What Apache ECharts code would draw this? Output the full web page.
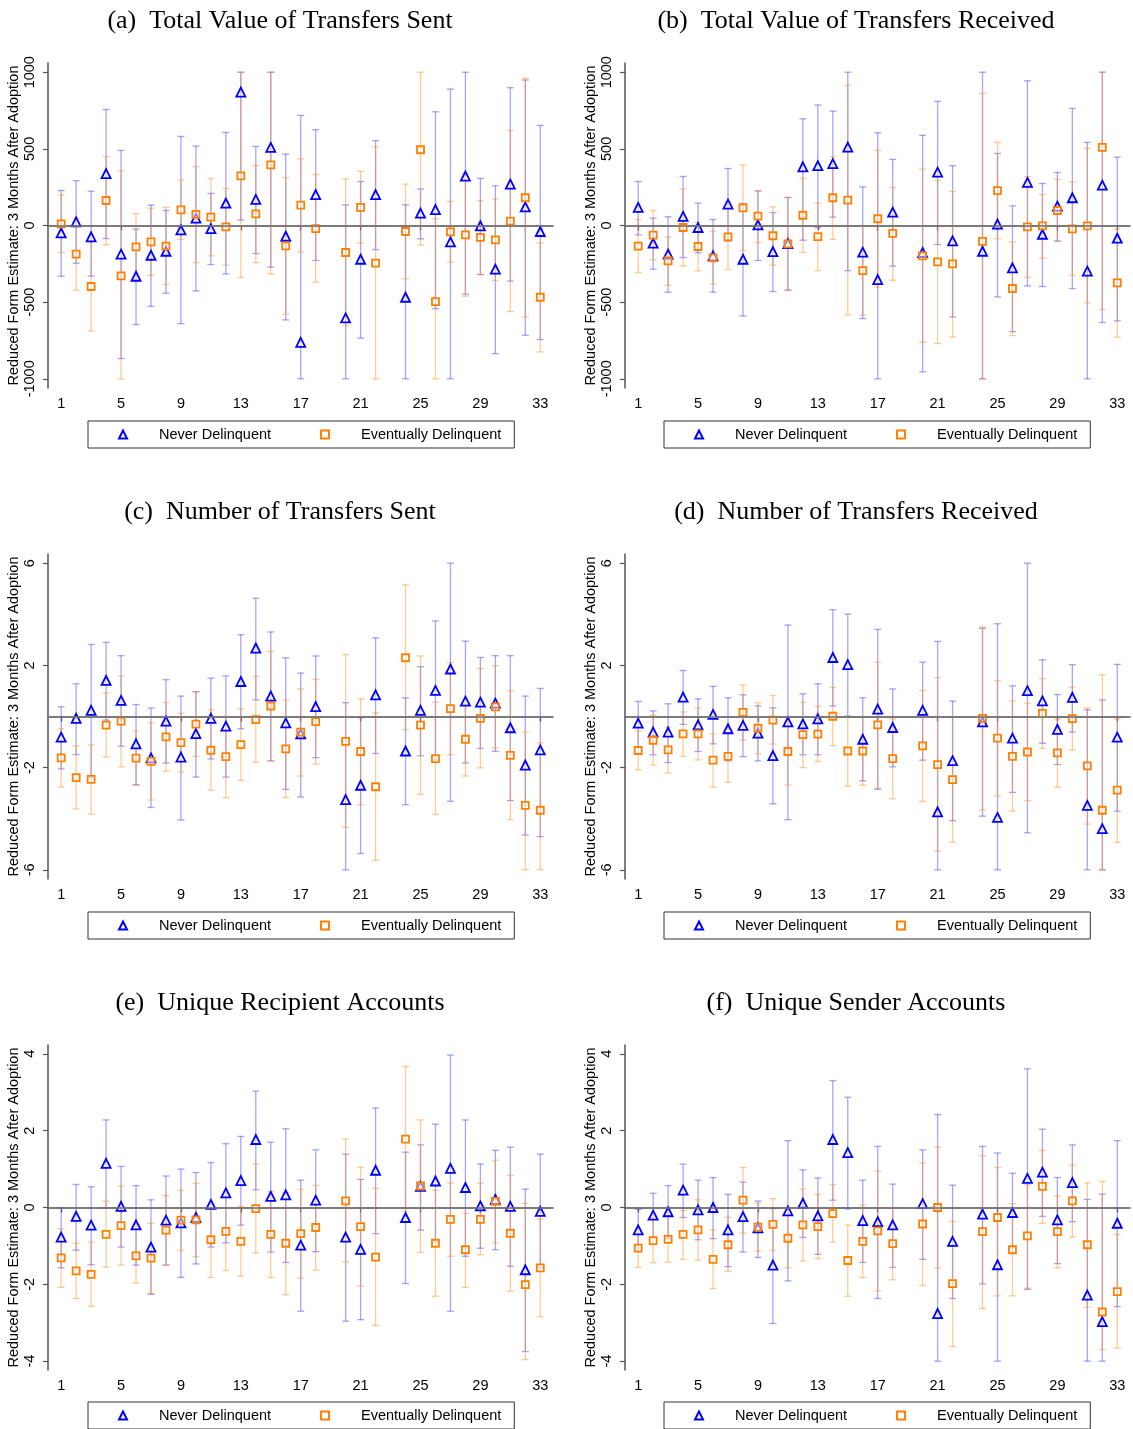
<!DOCTYPE html>
<html>
<head>
<meta charset="utf-8">
<script src="https://cdn.jsdelivr.net/npm/echarts@6/dist/echarts.min.js"></script>
<style>
  html, body { margin: 0; padding: 0; background: #fff; }
  #app { width: 1133px; height: 1429px; }
</style>
</head>
<body>
<div id="app"></div>
<script>
// months after adoption (19 and 23 are not estimated)
var periods = [1,2,3,4,5,6,7,8,9,10,11,12,13,14,15,16,17,18,20,21,22,24,25,26,27,28,29,30,31,32,33];

// each row: [estimate, lower CI, upper CI]  (CIs cut at the plotted range)
var aNever = [[-48,-331,228],[24,-246,292],[-74,-330,224],[339,-85,757],[-187,-868,490],[-331,-646,-24],[-194,-527,133],[-168,-442,98],[-28,-640,581],[48,-427,518],[-20,-255,209],[146,-316,607],[870,35,1000],[170,-183,516],[509,-272,1000],[-70,-616,466],[-762,-1000,718],[202,-228,625],[-603,-1000,135],[-220,-735,287],[202,-157,553],[-468,-1000,135],[81,-87,239],[104,-542,742],[-107,-1000,890],[322,-448,1000],[-2,-320,307],[-285,-836,259],[270,-363,899],[122,-716,949],[-39,-744,653]];
var aEvent = [[11,-176,200],[-187,-422,46],[-398,-688,-107],[163,-126,450],[-329,-1000,357],[-139,-357,78],[-107,-326,113],[-135,-385,118],[102,-91,296],[72,-242,385],[54,-198,307],[-9,-259,242],[324,-339,1000],[76,-242,392],[396,-316,1000],[-133,-579,313],[133,-172,435],[-20,-370,333],[-176,-653,305],[118,-115,353],[-246,-1000,514],[-39,-348,270],[494,-128,1000],[-496,-1000,44],[-41,-239,157],[-61,-461,339],[-78,-320,163],[-94,-359,174],[28,-561,620],[181,-596,960],[-468,-825,-113]];

var bNever = [[118,-61,287],[-115,-285,48],[-187,-435,57],[59,-209,320],[-13,-178,146],[-198,-435,39],[139,-102,372],[-220,-590,144],[4,-228,226],[-170,-431,85],[-118,-422,183],[383,-96,696],[390,-15,786],[403,54,746],[511,-294,1000],[-174,-607,252],[-353,-1000,605],[87,-265,431],[-176,-955,588],[348,-124,810],[-100,-596,390],[-168,-1000,1000],[9,-466,470],[-276,-692,128],[281,-394,944],[-57,-398,274],[126,-102,346],[181,-411,764],[-298,-1000,542],[263,-633,1000],[-83,-622,446]];
var bEvent = [[-135,-307,39],[-63,-224,98],[-231,-390,-76],[-13,-265,239],[-137,-296,20],[-211,-381,-37],[-74,-287,155],[115,-165,394],[61,-111,226],[-67,-259,122],[-120,-422,183],[67,-176,309],[-72,-294,146],[181,-91,448],[165,-583,914],[-294,-585,0],[44,-403,490],[-52,-357,248],[-198,-762,368],[-237,-770,294],[-250,-727,222],[-104,-1000,862],[228,-87,542],[-411,-718,-107],[-9,-339,318],[-2,-213,202],[98,-102,300],[-22,-326,283],[-2,-505,503],[509,-548,1000],[-374,-729,-22]];

var cNever = [[-0.81,-2.05,0.38],[-0.07,-1.49,1.28],[0.24,-2.4,2.82],[1.41,-0.14,2.9],[0.63,-1.16,2.38],[-1.07,-2.67,0.47],[-1.62,-3.56,0.33],[-0.18,-1.82,1.44],[-1.59,-4.05,0.8],[-0.67,-2.37,0.97],[-0.07,-1.66,1.5],[-0.38,-2.37,1.59],[1.37,-0.48,3.2],[2.68,0.65,4.63],[0.8,-1.74,3.31],[-0.25,-2.85,2.3],[-0.68,-3.15,1.7],[0.39,-1.61,2.37],[-3.25,-6,0.54],[-2.69,-5.36,-0.05],[0.85,-1.45,3.08],[-1.35,-3.45,0.73],[0.24,-1.54,1.95],[1.02,-1.7,3.74],[1.86,-3.32,6],[0.6,-1.82,2.95],[0.56,-1.25,2.31],[0.52,-1.36,2.38],[-0.44,-3.29,2.38],[-1.9,-4.64,0.8],[-1.31,-4.7,1.1]];
var cEvent = [[-1.62,-2.76,-0.48],[-2.39,-3.62,-1.15],[-2.46,-3.82,-1.11],[-0.34,-1.58,0.92],[-0.18,-1.97,1.59],[-1.63,-2.69,-0.56],[-1.76,-3.27,-0.25],[-0.8,-2.14,0.55],[-1.02,-2.17,0.13],[-0.3,-1.56,0.97],[-1.32,-2.88,0.26],[-1.57,-3.18,0.01],[-1.1,-2.5,0.3],[-0.12,-1.79,1.57],[0.41,-1.74,2.55],[-1.27,-3.18,0.64],[-0.61,-2.33,1.08],[-0.2,-1.86,1.46],[-0.97,-4.34,2.42],[-1.37,-3.45,0.69],[-2.75,-5.63,0.14],[2.3,-0.52,5.15],[-0.34,-3.05,2.37],[-1.65,-3.83,0.56],[0.31,-1.5,2.12],[-0.89,-2.33,0.46],[-0.07,-2.01,1.88],[0.38,-1.23,1.99],[-1.52,-4.04,1.01],[-3.48,-6,-0.61],[-3.67,-6,-1.03]];

var dNever = [[-0.26,-1.2,0.59],[-0.61,-1.5,0.22],[-0.61,-1.8,0.5],[0.76,-0.31,1.8],[-0.33,-1.37,0.69],[0.08,-1.07,1.18],[-0.48,-1.74,0.73],[-0.35,-1.57,0.85],[-0.65,-1.74,0.42],[-1.53,-3.42,0.34],[-0.21,-4.04,3.58],[-0.29,-1.5,0.89],[-0.09,-1.5,1.28],[2.31,0.41,4.18],[2.03,0.01,4.01],[-0.89,-2.52,0.73],[0.29,-2.85,3.41],[-0.43,-1.97,1.08],[0.24,-1.71,2.13],[-3.73,-6,2.94],[-1.73,-4.08,0.6],[-0.21,-3.9,3.45],[-3.95,-6,3.63],[-0.85,-2.97,1.2],[1.01,-4.55,6],[0.61,-1.05,2.22],[-0.5,-1.88,0.86],[0.75,-0.61,2.03],[-3.48,-6,0.26],[-4.39,-6,0.65],[-0.81,-3.71,2.04]];
var dEvent = [[-1.33,-2.09,-0.56],[-0.93,-1.9,0.05],[-1.31,-2.21,-0.41],[-0.68,-1.56,0.18],[-0.68,-1.7,0.34],[-1.71,-2.77,-0.68],[-1.56,-2.58,-0.46],[0.16,-0.93,1.24],[-0.46,-1.46,0.54],[-0.14,-1.08,0.82],[-1.37,-2.68,-0.03],[-0.71,-2,0.56],[-0.69,-1.76,0.41],[0.01,-1.14,1.14],[-1.35,-2.72,0.01],[-1.35,-2.69,0],[-0.33,-2.81,2.13],[-1.65,-3.22,-0.09],[-1.15,-3.32,1.02],[-1.88,-5.27,1.52],[-2.47,-4.92,0],[-0.07,-3.66,3.5],[-0.85,-3.11,1.4],[-1.56,-3.7,0.61],[-1.39,-3.29,0.52],[0.12,-1.25,1.48],[-1.42,-2.77,-0.1],[-0.08,-1.31,1.15],[-1.93,-4.21,0.34],[-3.67,-6,1.63],[-2.88,-4.92,-0.1]];

var eNever = [[-0.77,-1.57,0],[-0.23,-1.11,0.6],[-0.46,-1.49,0.54],[1.15,-0.01,2.28],[0.03,-1.03,1.07],[-0.45,-1.5,0.57],[-1.03,-2.26,0.2],[-0.33,-1.5,0.82],[-0.4,-1.82,1],[-0.26,-1.47,0.91],[0.08,-1.03,1.17],[0.38,-0.92,1.66],[0.7,-0.46,1.85],[1.77,0.46,3.03],[0.29,-1.16,1.7],[0.33,-1.43,2.05],[-0.98,-2.7,0.71],[0.19,-1.15,1.5],[-0.77,-2.96,1.39],[-1.09,-2.92,0.73],[0.97,-0.68,2.59],[-0.26,-1.98,1.44],[0.55,-0.59,1.63],[0.69,-0.9,2.17],[1.02,-2.7,3.97],[0.52,-1.27,2.28],[0.04,-1.06,1.13],[0.21,-1.1,1.49],[0.03,-1.53,1.57],[-1.62,-3.75,0.48],[-0.1,-1.57,1.39]];
var eEvent = [[-1.31,-2.08,-0.55],[-1.65,-2.37,-0.93],[-1.74,-2.57,-0.9],[-0.7,-1.55,0.16],[-0.47,-1.5,0.56],[-1.26,-1.97,-0.44],[-1.32,-2.23,-0.41],[-0.59,-1.5,0.31],[-0.33,-1.12,0.45],[-0.32,-1.28,0.63],[-0.84,-1.82,0.12],[-0.62,-1.64,0.37],[-0.88,-1.79,0.03],[-0.03,-1.18,1.13],[-0.7,-1.82,0.42],[-0.93,-2.27,0.39],[-0.68,-1.84,0.48],[-0.52,-1.63,0.58],[0.17,-1.42,1.78],[-0.5,-2.05,1.05],[-1.29,-3.07,0.5],[1.78,-0.1,3.67],[0.56,-1.17,2.28],[-0.93,-2.31,0.45],[-0.31,-1.27,0.64],[-1.1,-2.08,-0.15],[-0.31,-1.23,0.63],[0.16,-0.92,1.23],[-0.67,-2.18,0.84],[-2.01,-3.96,0.11],[-1.57,-2.84,-0.3]];

var fNever = [[-0.58,-1.14,-0.05],[-0.2,-0.78,0.37],[-0.11,-0.81,0.57],[0.45,-0.26,1.13],[-0.06,-0.84,0.71],[0,-0.81,0.78],[-0.58,-1.54,0.34],[-0.24,-1.16,0.66],[-0.53,-1.3,0.17],[-1.5,-3.02,-0.03],[-0.09,-1.91,1.74],[0.11,-0.78,0.98],[-0.22,-1.22,0.77],[1.77,0.19,3.3],[1.43,-0.04,2.87],[-0.34,-1.43,0.71],[-0.37,-2.37,1.59],[-0.45,-1.56,0.61],[0.1,-1.35,1.5],[-2.76,-4,2.42],[-0.88,-2.37,0.58],[-0.17,-1.99,1.59],[-1.49,-4,1.42],[-0.13,-1.19,0.89],[0.76,-2.13,3.61],[0.92,-0.23,2.04],[-0.32,-1.46,0.78],[0.65,-0.37,1.63],[-2.28,-4,0.21],[-2.97,-4,0.35],[-0.41,-2.58,1.74]];
var fEvent = [[-1.06,-1.56,-0.59],[-0.86,-1.44,-0.27],[-0.83,-1.42,-0.2],[-0.7,-1.35,-0.08],[-0.58,-1.37,0.2],[-1.35,-2.11,-0.58],[-0.97,-1.66,-0.26],[0.19,-0.67,1.04],[-0.51,-1.14,0.11],[-0.44,-1.12,0.23],[-0.8,-1.57,-0.01],[-0.45,-1.39,0.48],[-0.5,-1.33,0.34],[-0.16,-0.9,0.6],[-1.38,-2.31,-0.46],[-0.88,-1.82,0.06],[-0.61,-2.17,0.95],[-0.94,-1.88,0],[-0.43,-2.03,1.16],[0,-1.58,1.57],[-1.98,-3.62,-0.36],[-0.63,-2.63,1.35],[-0.26,-2.3,1.04],[-1.1,-2.3,0.1],[-0.74,-2.1,0.59],[0.55,-0.41,1.49],[-0.63,-1.57,0.3],[0.17,-0.77,1.1],[-0.97,-2.6,0.64],[-2.72,-3.7,0.68],[-2.19,-3.66,-0.7]];

var titles = ['(a)  Total Value of Transfers Sent', '(b)  Total Value of Transfers Received',
              '(c)  Number of Transfers Sent', '(d)  Number of Transfers Received',
              '(e)  Unique Recipient Accounts', '(f)  Unique Sender Accounts'];
var xTicks = [1, 5, 9, 13, 17, 21, 25, 29, 33];
var yTicksValue = [-1000, -500, 0, 500, 1000];
var yTicksCount = [-6, -2, 2, 6];
var yTicksUnique = [-4, -2, 0, 2, 4];
var yName = 'Reduced Form Estimate: 3 Months After Adoption';
var legendNames = ['Never Delinquent', 'Eventually Delinquent'];

var blue = '#0000ff', orange = '#ff8000';
var blueBar = 'rgba(40,40,255,0.42)', orangeBar = 'rgba(255,140,20,0.45)';
var sans = 'Liberation Sans', serif = 'Liberation Serif';
var fs = 14.5;

var panels = [
  {never: aNever, event: aEvent, ticks: yTicksValue, lim: 1060},
  {never: bNever, event: bEvent, ticks: yTicksValue, lim: 1060},
  {never: cNever, event: cEvent, ticks: yTicksCount, lim: 6.36},
  {never: dNever, event: dEvent, ticks: yTicksCount, lim: 6.36},
  {never: eNever, event: eEvent, ticks: yTicksUnique, lim: 4.23},
  {never: fNever, event: fEvent, ticks: yTicksUnique, lim: 4.23}
];
var rowTop = [63, 554, 1045];
var colLeft = [48, 625];
var titleX = [280, 856];

function errorBars(color) {
  return function (params, api) {
    var x = api.value(0);
    var lo = api.coord([x, api.value(1)]);
    var hi = api.coord([x, api.value(2)]);
    var w = 3.5;
    var style = {stroke: color, lineWidth: 1.3, fill: null};
    return {
      type: 'group',
      children: [
        {type: 'line', shape: {x1: hi[0], y1: hi[1], x2: lo[0], y2: lo[1]}, style: style},
        {type: 'line', shape: {x1: hi[0] - w, y1: hi[1], x2: hi[0] + w, y2: hi[1]}, style: style},
        {type: 'line', shape: {x1: lo[0] - w, y1: lo[1], x2: lo[0] + w, y2: lo[1]}, style: style}
      ]
    };
  };
}

var grid = [], xAxis = [], yAxis = [], series = [], legend = [], graphic = [];

panels.forEach(function (p, i) {
  var row = Math.floor(i / 2), col = i % 2;
  grid.push({left: colLeft[col], top: rowTop[row], width: 505, height: 325});
  xAxis.push({
    type: 'value', gridIndex: i, min: 0.12, max: 33.85,
    splitLine: {show: false},
    axisLine: {lineStyle: {color: '#555', width: 1.5}},
    axisTick: {customValues: xTicks, length: 5, lineStyle: {color: '#555', width: 1.2}},
    axisLabel: {customValues: xTicks, color: '#000', fontFamily: sans, fontSize: fs, margin: 8}
  });
  yAxis.push({
    type: 'value', gridIndex: i, min: -p.lim, max: p.lim,
    name: yName, nameLocation: 'middle', nameRotate: 90, nameGap: 25,
    nameTextStyle: {color: '#000', fontFamily: sans, fontSize: fs},
    splitLine: {show: false},
    axisLine: {show: true, lineStyle: {color: '#555', width: 1.5}},
    axisTick: {show: true, customValues: p.ticks, length: 5, lineStyle: {color: '#555', width: 1.2}},
    axisLabel: {customValues: p.ticks, rotate: 90, color: '#000', fontFamily: sans, fontSize: fs, margin: 11,
                formatter: function (v) { return String(v); }}
  });

  var groups = [[p.never, 'Never Delinquent', blueBar, 'triangle', blue, 9],
                [p.event, 'Eventually Delinquent', orangeBar, 'rect', orange, 7]];
  groups.forEach(function (g, k) {
    series.push({
      name: g[1] + ' CI', type: 'custom', xAxisIndex: i, yAxisIndex: i,
      renderItem: errorBars(g[2]), silent: true, z: 2,
      encode: {x: 0, y: [1, 2]},
      data: periods.map(function (t, j) { return [t, g[0][j][1], g[0][j][2]]; }),
      markLine: k === 0 ? {
        silent: true, symbol: 'none', label: {show: false},
        lineStyle: {color: '#7a7a7a', width: 1.5, type: 'solid'},
        data: [{yAxis: 0}]
      } : undefined
    });
  });
  groups.forEach(function (g) {
    series.push({
      name: g[1], type: 'scatter', xAxisIndex: i, yAxisIndex: i, z: 3,
      symbol: g[3], symbolSize: g[5],
      itemStyle: {color: 'rgba(255,255,255,0.5)', borderColor: g[4], borderWidth: 1.8, opacity: 1},
      data: periods.map(function (t, j) { return [t, g[0][j][0]]; })
    });
  });

  graphic.push({
    type: 'text', x: titleX[col], y: [21, 512, 1003][row],
    style: {text: titles[i], font: '26px "' + serif + '"', fill: '#000',
            textAlign: 'center', textVerticalAlign: 'middle'}
  });
  legend.push({
    data: legendNames, left: col === 0 ? 88 : 664, top: [421, 912, 1402][row],
    orient: 'horizontal', itemWidth: 8, itemHeight: 8, itemGap: 49,
    padding: [6, 13, 6, 30], borderColor: '#333', borderWidth: 1,
    selectedMode: false,
    textStyle: {color: '#000', fontFamily: sans, fontSize: fs, lineHeight: 14, padding: [0, 0, 0, 27]}
  });
});

var myChart = echarts.init(document.getElementById('app'));
myChart.setOption({
  backgroundColor: '#fff',
  animation: false,
  grid: grid,
  xAxis: xAxis,
  yAxis: yAxis,
  legend: legend,
  graphic: graphic,
  series: series
});
</script>
</body>
</html>
